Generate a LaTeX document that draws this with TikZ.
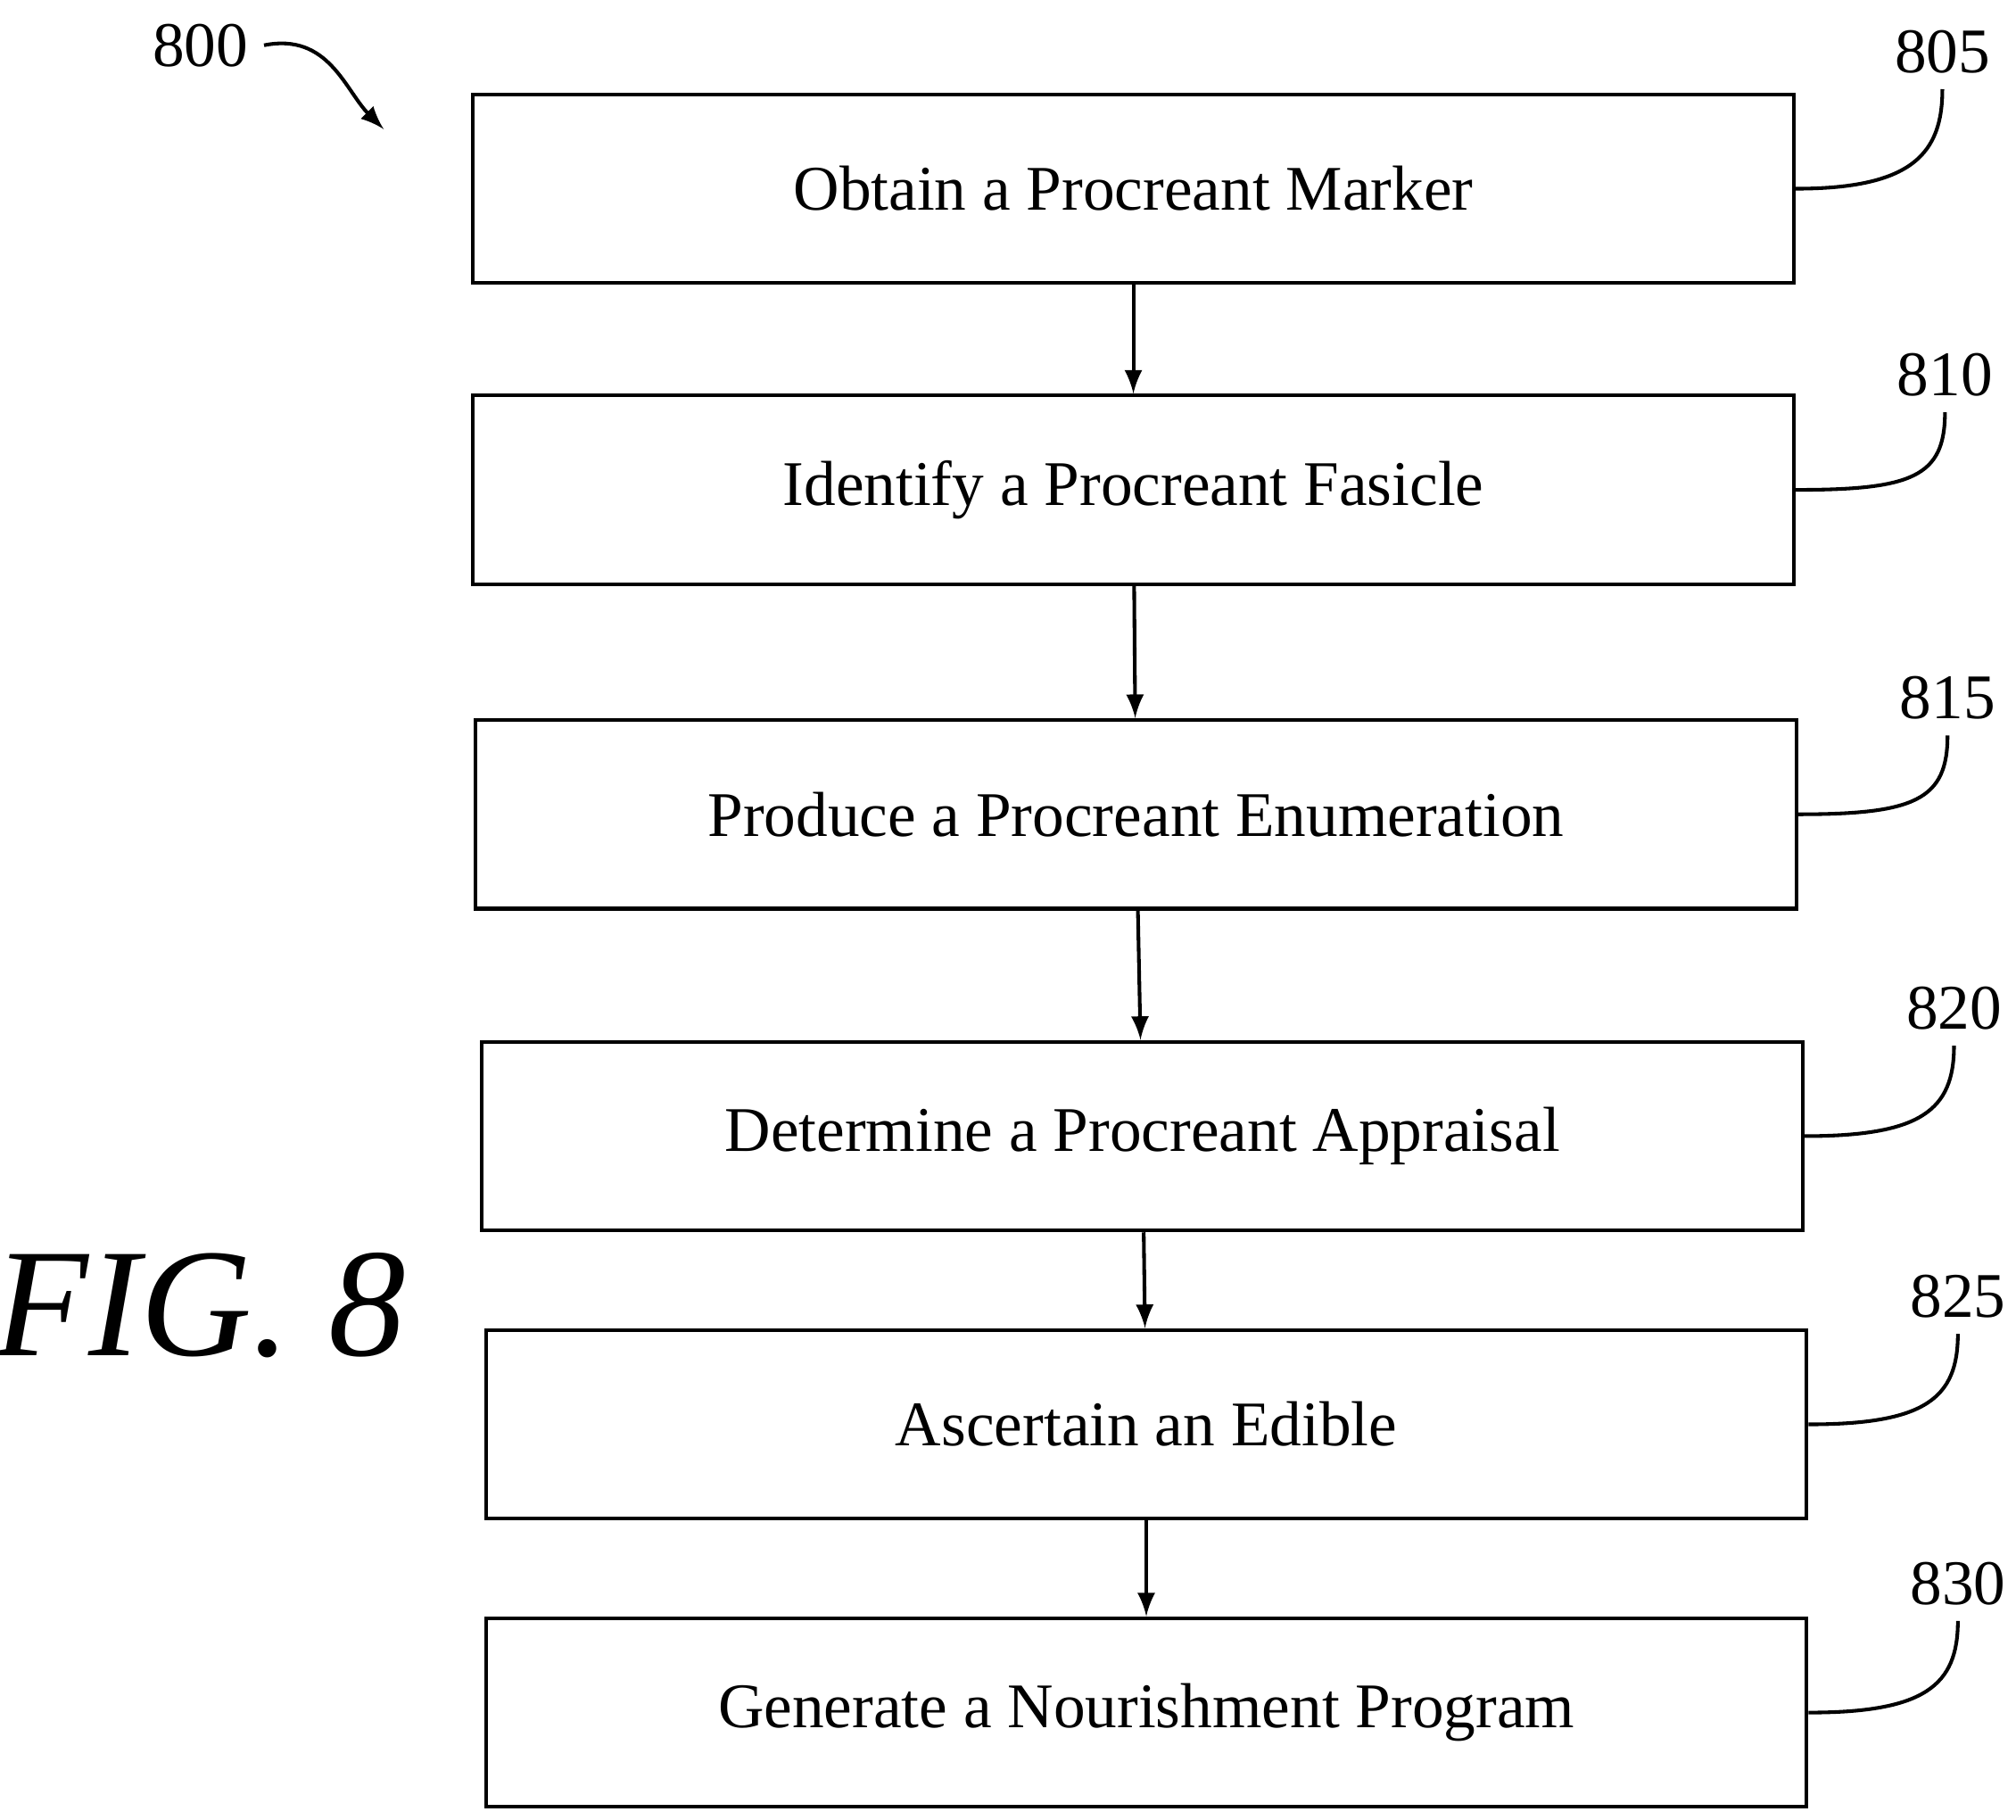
\documentclass[tikz,border=0pt]{standalone}
\usepackage{fontspec}
\setmainfont{Liberation Serif}
\tikzset{
  stepbox/.style={draw, thick, minimum width=10.22cm, minimum height=1.46cm, font=\fontsize{14}{16}\selectfont},
  tag/.style={font=\fontsize{14}{16}\selectfont},
  lead/.style={thick},
}
\begin{document}
\begin{tikzpicture}
        \useasboundingbox (0,0) rectangle (15.6,-14.08);
        % steps
        \node[stepbox] (s805) at (8.77,-1.46) {Obtain a Procreant Marker};
        \node[stepbox] (s810) at (8.77,-3.79) {Identify a Procreant Fasicle};
        \node[stepbox] (s815) at (8.79,-6.30) {Produce a Procreant Enumeration};
        \node[stepbox] (s820) at (8.84,-8.79) {Determine a Procreant Appraisal};
        \node[stepbox] (s825) at (8.87,-11.02) {Ascertain an Edible};
        \node[stepbox] (s830) at (8.87,-13.25) {Generate a Nourishment Program};

        \draw[thick,-latex] (s805) -- (s810);
        \draw[thick,-latex] (s810) -- (s815);
        \draw[thick,-latex] (s815) -- (s820);
        \draw[thick,-latex] (s820) -- (s825);
        \draw[thick,-latex] (s825) -- (s830);

        % reference numerals
        \node[tag] (n805) at (15.03,-0.40) {805};
        \node[tag] (n810) at (15.05,-2.90) {810};
        \node[tag] (n815) at (15.07,-5.40) {815};
        \node[tag] (n820) at (15.12,-7.80) {820};
        \node[tag] (n825) at (15.15,-10.03) {825};
        \node[tag] (n830) at (15.15,-12.25) {830};
        \foreach \n in {805,810,815,820,825,830}
        {\draw[lead] (s\n.east) .. controls +(0.9,0) and +(0,-0.5) .. (n\n.south);}

        \node[tag] (n800) at (1.55,-0.35) {800};
        \draw[thick,-latex] (n800.east) .. controls +(0.5,0.1) and +(-0.3,0.3) .. (2.97,-1.0);

        \node[font=\fontsize{34}{40}\selectfont\itshape] (fig) at (1.55,-10.10) {FIG. 8};
      \end{tikzpicture}
\end{document}
